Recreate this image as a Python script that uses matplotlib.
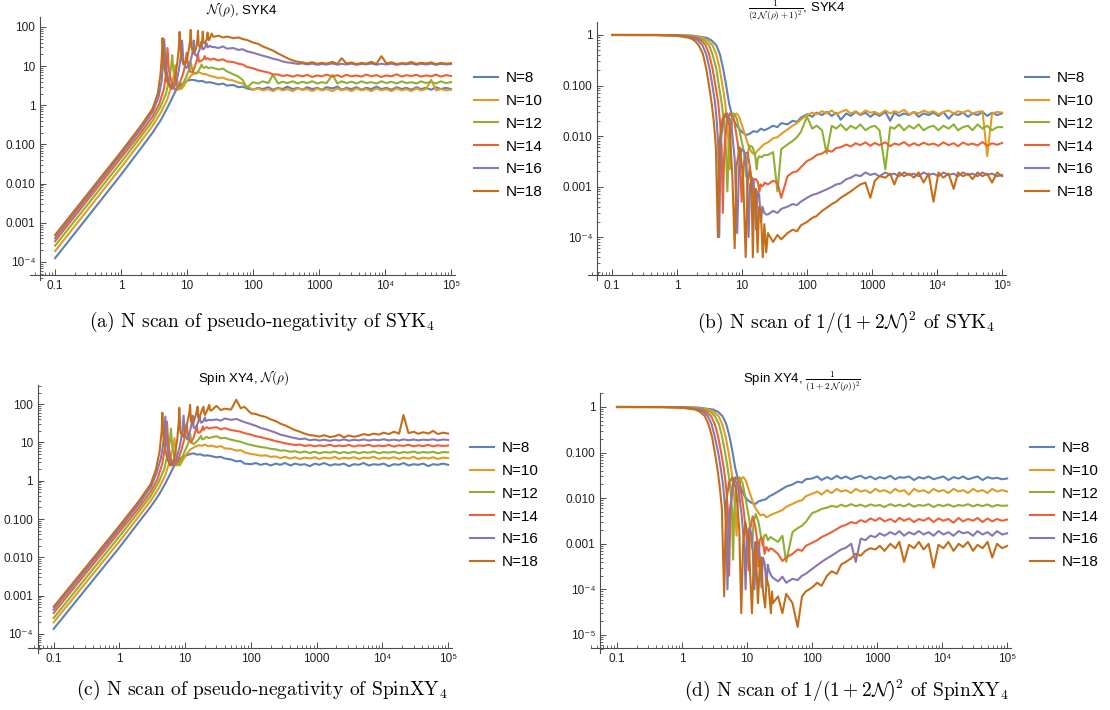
import numpy as np
import matplotlib
matplotlib.use("Agg")
import matplotlib.pyplot as plt
from matplotlib.ticker import LogLocator, NullFormatter

plt.rcParams['font.family'] = ['Liberation Sans', 'DejaVu Sans']
plt.rcParams['mathtext.fontset'] = 'cm'

N_VALUES = [8, 10, 12, 14, 16, 18]
COLORS = ['#5E81B5', '#E19C24', '#8FB032', '#EB6235', '#8778B3', '#C56E1A']

# common x grid for the noisy late-time part of every curve
x_tail = [25, 30, 35, 40, 50, 60, 70, 80,
          100, 120, 140, 170, 200, 240, 280, 330,
          400, 470, 560, 660, 790, 940,
          1100, 1300, 1600, 1900, 2200, 2600, 3100, 3700,
          4400, 5200, 6200, 7400, 8800,
          10500, 12500, 15000, 18000, 21000, 25000,
          30000, 35000, 42000, 50000, 59000, 70000, 84000, 100000]

# ---------------- (a) SYK4, N(rho) ----------------
a_head_x = {
    8: [0.1, 1, 2, 3, 4, 5, 5.8, 6.5, 7, 7.6, 8.5, 10, 11.5, 13, 15, 17, 19.5, 22],
    10: [0.1, 1, 2, 3, 4, 5, 5.8, 6.3, 6.6, 6.9, 7.4, 8.2, 9, 10, 11.5, 13, 15, 17, 19.5, 22],
    12: [0.1, 1, 2, 3, 4, 4.8, 5.4, 5.75, 5.95, 6.2, 6.7, 7.4, 8.5, 9.8, 10.8, 11.4, 11.9, 12.8,
         14, 15.5, 16.6, 17.2, 18, 19.5, 21, 23],
    14: [0.1, 1, 2, 3, 3.8, 4.5, 4.85, 5.05, 5.3, 5.8, 6.5, 7.5, 8.6, 9.4, 9.85, 10.4, 11.2, 12.2,
         13.3, 14.2, 14.6, 15.2, 16.3, 17.6, 18.5, 19.3, 20.5, 22.5],
    16: [0.1, 1, 2, 3, 3.7, 4.1, 4.35, 4.5, 4.8, 5.3, 5.9, 6.8, 7.6, 8.1, 8.4, 8.8, 9.6, 10.6, 11.6,
         12.3, 12.6, 13.1, 14, 15.2, 16.1, 16.5, 17.1, 18.2, 19.3, 19.8, 20.5, 22, 23.5],
    18: [0.1, 1, 2, 3, 3.6, 3.95, 4.15, 4.25, 4.5, 5.0, 5.6, 6.4, 7.1, 7.5, 7.7, 8.1, 8.8, 9.8, 10.7,
         11.1, 11.35, 11.7, 12.5, 13.6, 14.3, 14.65, 15.0, 15.9, 16.9, 17.3, 17.7, 18.6, 19.8, 20.5,
         20.9, 21.5, 22.8, 23.5],
}
a_head_y = {
    8: [1.25e-4, 0.017, 0.08, 0.2, 0.42, 0.85, 1.4, 2.1, 2.6, 3.1, 3.6, 4.2, 4.5, 4.4, 4.1, 4.2, 3.8, 3.9],
    10: [1.9e-4, 0.026, 0.12, 0.3, 0.65, 1.4, 3.2, 6.0, 10.5, 5.0, 3.2, 2.6, 3.2, 4.3, 5.8, 6.6, 7.0, 6.4,
         6.2, 5.7],
    12: [2.6e-4, 0.035, 0.16, 0.4, 0.95, 2.0, 5.0, 10, 19, 8, 3.8, 2.5, 3.3, 5.5, 8.5, 12.5, 8.5, 6.5,
         6.5, 8.5, 11, 9.5, 9, 9.8, 8.8, 9.3],
    14: [3.4e-4, 0.046, 0.2, 0.52, 1.1, 2.8, 8, 29, 8, 3.8, 2.5, 3.2, 6, 11, 22, 10, 7.2, 7, 10.5, 15,
         20, 13, 13.5, 15, 18, 15, 16, 14.5],
    16: [4.1e-4, 0.056, 0.25, 0.68, 1.6, 4, 12, 48, 9, 3.8, 2.6, 3.5, 9, 20, 45, 14, 9, 10, 16, 26, 45,
         20, 18, 24, 34, 42, 27, 28, 34, 38, 30, 33, 31],
    18: [4.9e-4, 0.065, 0.3, 0.82, 2.0, 6, 18, 52, 10, 4.0, 2.8, 3.8, 12, 30, 75, 18, 11, 13, 28, 45, 84,
         30, 21, 27, 45, 80, 34, 30, 40, 76, 40, 38, 48, 72, 50, 46, 58, 68],
}
a_tail = {
    8: [3.7, 3.4, 3.6, 3.2, 3.3, 2.9, 3.0, 2.7,
        2.5, 2.8, 2.6, 2.9, 2.5, 2.8, 2.6, 3.0,
        2.6, 2.8, 2.5, 2.9, 2.6, 2.8,
        2.5, 2.9, 2.7, 3.0, 2.5, 2.8, 2.6, 2.9,
        2.5, 2.8, 2.6, 3.0, 2.6,
        2.8, 2.5, 2.9, 2.6, 2.8, 2.5,
        2.9, 2.6, 2.8, 2.5, 2.9, 2.6, 2.8, 2.6],
    10: [5.4, 5.0, 5.1, 4.6, 4.3, 3.8, 3.6, 3.1,
         2.5, 2.7, 2.4, 2.6, 2.3, 2.7, 2.4, 2.6,
         2.3, 2.7, 2.5, 2.6, 2.3, 2.7,
         2.4, 2.6, 2.3, 2.7, 2.4, 2.6, 2.3, 2.7,
         2.4, 2.6, 2.3, 2.7, 2.4,
         2.6, 2.3, 2.7, 2.4, 2.6, 2.3,
         2.7, 2.4, 2.6, 4.5, 2.4, 2.6, 2.4, 2.5],
    12: [9.0, 8.2, 8.7, 7.4, 6.2, 5.4, 4.4, 2.8,
         3.9, 3.6, 4.1, 3.7, 6.0, 3.6, 4.0, 3.7,
         4.1, 3.6, 4.0, 3.7, 4.1, 3.6,
         3.9, 3.7, 6.0, 3.6, 4.1, 3.7, 4.0, 3.6,
         4.1, 3.7, 3.9, 3.6, 4.1,
         3.7, 4.0, 3.6, 4.1, 3.7, 3.9,
         3.6, 4.1, 3.7, 4.0, 3.6, 4.1, 3.7, 3.9],
    14: [15.5, 14.0, 15.0, 13.2, 12.8, 11.5, 11.0, 9.6,
         8.8, 7.9, 7.4, 6.9, 6.2, 6.1, 5.6, 5.9,
         5.4, 5.9, 5.5, 6.0, 5.3, 5.8,
         5.5, 6.1, 5.4, 5.9, 5.3, 6.0, 5.5, 5.8,
         5.4, 6.1, 5.5, 5.9, 5.3,
         5.8, 5.5, 6.2, 5.4, 5.9, 5.6,
         6.0, 5.4, 5.8, 5.5, 6.1, 5.4, 5.9, 5.6],
    16: [31, 29, 32, 28, 29, 26, 27, 24,
         22, 20, 18.5, 17, 15.5, 14.5, 13.2, 12.5,
         12.0, 11.4, 11.8, 11.0, 11.6, 10.8,
         11.4, 11.0, 11.7, 10.9, 11.5, 11.0, 11.6, 10.8,
         11.4, 11.1, 11.7, 10.9, 11.5,
         11.0, 11.6, 10.8, 11.4, 11.1, 11.7,
         10.9, 11.5, 11.0, 11.6, 10.8, 11.4, 11.1, 11.3],
    18: [56, 60, 54, 57, 52, 54, 49, 47,
         40, 37, 32, 28, 25, 21, 18.5, 16,
         14, 13, 12.5, 11.8, 12.6, 11.5,
         12.2, 11.6, 12.8, 11.4, 16, 11.7, 12.4, 11.3,
         12.1, 11.6, 12.9, 11.4, 18,
         11.7, 12.6, 11.3, 12.0, 11.6, 12.8,
         11.4, 12.2, 11.7, 12.5, 11.3, 12.1, 11.6, 11.9],
}

# ---------------- (b) SYK4, 1/(2N+1)^2 ----------------
b_head_x = {
    8: [0.1, 0.5, 1, 1.7, 2.85, 3.4, 4.0, 4.55, 5.1, 5.7, 6.3, 6.8, 7.3, 8, 9, 10, 11.5, 13, 15, 17,
        19.5, 22],
    10: [0.1, 0.5, 1, 1.5, 2.5, 3, 3.5, 4, 4.5, 5, 5.5, 5.9, 6.2, 6.4, 6.65, 7, 7.6, 8.2, 9, 10, 11,
         12.5, 14, 15.5, 17, 19, 21.5],
    12: [0.1, 0.5, 1, 1.3, 2.2, 2.65, 3.1, 3.5, 4.0, 4.4, 4.85, 5.3, 5.6, 5.95, 6.25, 6.7, 7.4, 8.3,
         9.5, 10.8, 11.4, 12, 13, 14.5, 16, 16.8, 17.4, 18.5, 20, 22],
    14: [0.1, 0.5, 1, 1.2, 1.95, 2.35, 2.75, 3.1, 3.5, 3.9, 4.3, 4.6, 4.85, 5.05, 5.3, 5.8, 6.5, 7.5,
         8.6, 9.4, 9.85, 10.4, 11.2, 12.2, 13.3, 14.2, 14.6, 15.2, 16.3, 17.6, 18.5, 19.3, 20.5, 22.5],
    16: [0.1, 0.5, 1.05, 1.75, 2.1, 2.45, 2.8, 3.15, 3.5, 3.85, 4.1, 4.3, 4.45, 4.7, 5.2, 5.9, 6.8,
         7.7, 8.4, 9.0, 9.8, 10.8, 11.8, 12.6, 13.3, 14.3, 15.4, 16.4, 17.2, 18.3, 19.5, 20.5, 22, 23.5],
    18: [0.1, 0.5, 0.95, 1.55, 1.85, 2.15, 2.5, 2.8, 3.1, 3.4, 3.7, 3.95, 4.25, 4.5, 5.0, 5.6, 6.4,
         7.1, 7.7, 8.2, 9.2, 10.4, 11.35, 12.2, 13.2, 14.0, 14.65, 15.3, 16.2, 17.3, 18.3, 19.5, 20.8,
         22, 23.5],
}
b_head_y = {
    8: [1, 1, 0.99, 0.97, 0.88, 0.78, 0.63, 0.42, 0.22, 0.1, 0.045, 0.03, 0.022, 0.017, 0.014, 0.012,
        0.0105, 0.011, 0.0125, 0.012, 0.014, 0.013],
    10: [1, 1, 0.99, 0.97, 0.88, 0.78, 0.63, 0.42, 0.22, 0.1, 0.045, 0.018, 0.007, 0.0022, 0.009,
         0.019, 0.026, 0.028, 0.024, 0.016, 0.011, 0.0065, 0.0048, 0.0043, 0.005, 0.0058, 0.0068],
    12: [1, 1, 0.99, 0.97, 0.88, 0.78, 0.63, 0.42, 0.22, 0.1, 0.045, 0.018, 0.007, 0.0008, 0.007,
         0.02, 0.028, 0.022, 0.01, 0.0045, 0.0016, 0.004, 0.0065, 0.006, 0.004, 0.0022, 0.0035, 0.004,
         0.0038, 0.0042],
    14: [1, 1, 0.99, 0.97, 0.88, 0.78, 0.63, 0.42, 0.22, 0.1, 0.045, 0.018, 0.006, 0.0003, 0.004,
         0.02, 0.028, 0.021, 0.007, 0.0021, 0.0005, 0.0023, 0.0045, 0.0047, 0.0022, 0.0011, 0.0006,
         0.0014, 0.0014, 0.0012, 0.0008, 0.0011, 0.001, 0.0012],
    16: [1, 0.995, 0.97, 0.88, 0.78, 0.63, 0.42, 0.22, 0.1, 0.045, 0.018, 0.006, 0.0001, 0.008, 0.022,
         0.028, 0.018, 0.0035, 0.00012, 0.0025, 0.0055, 0.005, 0.0022, 0.0001, 0.0011, 0.0015, 0.0009,
         0.00014, 0.0008, 0.0007, 0.0002, 0.0004, 0.0003, 0.00028],
    18: [1, 0.995, 0.97, 0.88, 0.78, 0.63, 0.42, 0.22, 0.1, 0.045, 0.018, 0.006, 0.0001, 0.008, 0.022,
         0.028, 0.016, 0.0015, 0.00006, 0.0025, 0.006, 0.0015, 0.00004, 0.0012, 0.0024, 0.0009,
         0.00004, 0.0007, 0.0009, 0.00005, 0.0004, 0.0003, 0.00004, 0.00018, 0.00005],
}
b_tail = {
    8: [0.014, 0.016, 0.015, 0.018, 0.017, 0.020, 0.019, 0.023,
        0.027, 0.024, 0.029, 0.026, 0.030, 0.025, 0.029, 0.021,
        0.028, 0.025, 0.030, 0.026, 0.029, 0.024,
        0.028, 0.025, 0.030, 0.020, 0.029, 0.025, 0.028, 0.026,
        0.030, 0.024, 0.028, 0.026, 0.029,
        0.025, 0.030, 0.022, 0.028, 0.026, 0.029,
        0.024, 0.028, 0.026, 0.030, 0.025, 0.029, 0.026, 0.028],
    10: [0.0075, 0.009, 0.0095, 0.011, 0.0135, 0.016, 0.018, 0.021,
         0.026, 0.029, 0.027, 0.031, 0.028, 0.032, 0.027, 0.030,
         0.033, 0.028, 0.031, 0.027, 0.032, 0.029,
         0.030, 0.027, 0.032, 0.028, 0.031, 0.029, 0.033, 0.027,
         0.030, 0.028, 0.032, 0.029, 0.031,
         0.027, 0.030, 0.032, 0.028, 0.031, 0.029,
         0.032, 0.028, 0.030, 0.031, 0.004, 0.028, 0.030, 0.029],
    12: [0.0042, 0.0048, 0.0008, 0.0055, 0.0068, 0.008, 0.0095, 0.012,
         0.024, 0.014, 0.016, 0.013, 0.0045, 0.016, 0.014, 0.017,
         0.013, 0.016, 0.014, 0.017, 0.013, 0.015,
         0.016, 0.013, 0.0022, 0.015, 0.014, 0.017, 0.013, 0.016,
         0.014, 0.017, 0.013, 0.015, 0.016,
         0.013, 0.016, 0.014, 0.017, 0.013, 0.015,
         0.016, 0.013, 0.017, 0.014, 0.016, 0.013, 0.015, 0.015],
    14: [0.0011, 0.0013, 0.0012, 0.0006, 0.0016, 0.0019, 0.002, 0.0024,
         0.0032, 0.0036, 0.0042, 0.0045, 0.0052, 0.0049, 0.0058, 0.006,
         0.0068, 0.0062, 0.0072, 0.0066, 0.0075, 0.0064,
         0.0073, 0.0066, 0.0075, 0.0063, 0.0071, 0.0067, 0.0076, 0.0064,
         0.0072, 0.0065, 0.0074, 0.0067, 0.0071,
         0.0064, 0.0075, 0.0066, 0.0072, 0.0063, 0.0074,
         0.0067, 0.0071, 0.0065, 0.0076, 0.0064, 0.0072, 0.0067, 0.0073],
    16: [0.00028, 0.00033, 0.0003, 0.00036, 0.0004, 0.00045, 0.00043, 0.0005,
         0.0006, 0.00068, 0.00072, 0.0008, 0.00088, 0.00098, 0.0011, 0.00115,
         0.0014, 0.0015, 0.0017, 0.0016, 0.0019, 0.0017,
         0.0018, 0.0016, 0.0019, 0.0017, 0.0018, 0.0016, 0.0019, 0.0017,
         0.0018, 0.0016, 0.0019, 0.0017, 0.0018,
         0.0016, 0.0019, 0.0017, 0.0018, 0.0016, 0.0019,
         0.0017, 0.0018, 0.0016, 0.0019, 0.0017, 0.0018, 0.0016, 0.0017],
    18: [0.00012, 0.00008, 0.00011, 0.00009, 0.00012, 0.00014, 0.00013, 0.00017,
         0.0002, 0.00024, 0.00026, 0.00033, 0.00038, 0.00045, 0.0005, 0.0006,
         0.0007, 0.0008, 0.00095, 0.0011, 0.0012, 0.0006,
         0.0013, 0.0016, 0.0015, 0.0018, 0.0011, 0.0019, 0.0016, 0.0018,
         0.0015, 0.0019, 0.0012, 0.0018, 0.0005,
         0.0019, 0.0015, 0.0018, 0.0009, 0.0019, 0.0016,
         0.0018, 0.0014, 0.0019, 0.0016, 0.0018, 0.0012, 0.0019, 0.0016],
}

# ---------------- (c) Spin XY4, N(rho) ----------------
c_head_x = {
    8: [0.1, 1, 2, 3, 4, 5, 5.8, 6.5, 7.2, 8, 9, 10.5, 12, 13.5, 15, 17, 19.5, 22],
    10: [0.1, 1, 2, 3, 4, 5, 5.8, 6.5, 6.9, 7.2, 7.6, 8.3, 9.2, 10.5, 12, 14, 16, 18, 20, 22.5],
    12: [0.1, 1, 2, 3, 4, 4.8, 5.5, 5.9, 6.1, 6.35, 6.9, 7.6, 8.7, 10, 11.3, 11.9, 12.5, 13.5, 15,
         16.6, 17.4, 18.2, 19.5, 21, 23],
    14: [0.1, 1, 2, 3, 3.8, 4.5, 5.0, 5.3, 5.55, 6.0, 6.7, 7.7, 8.8, 9.7, 10.3, 10.6, 11.1, 12.2, 13.4,
         14.4, 15.0, 15.6, 16.6, 17.8, 18.6, 19.1, 19.8, 21.5, 23],
    16: [0.1, 1, 2, 3, 3.7, 4.3, 4.75, 5.0, 5.25, 5.7, 6.3, 7.3, 8.3, 9.1, 9.5, 9.9, 10.8, 11.9, 12.6,
         13.0, 13.5, 14.5, 15.6, 16.3, 16.7, 17.3, 18.5, 19.5, 20.0, 20.6, 22, 23.5],
    18: [0.1, 1, 2, 3, 3.6, 4.1, 4.4, 4.5, 4.75, 5.3, 5.9, 6.8, 7.6, 8.0, 8.15, 8.5, 9.4, 10.6, 11.6,
         11.9, 12.3, 13.3, 14.7, 15.5, 15.8, 16.3, 17.6, 19.0, 19.5, 20.0, 21.4, 23.3, 23.9, 24.5],
}
c_head_y = {
    8: [1.35e-4, 0.018, 0.085, 0.21, 0.43, 0.85, 1.4, 2.1, 2.8, 3.5, 4.1, 4.6, 5.0, 5.2, 4.8, 4.9,
        4.5, 4.6],
    10: [2.0e-4, 0.026, 0.12, 0.3, 0.65, 1.4, 3.2, 7, 13, 5.5, 3.2, 2.5, 3.4, 5, 6.5, 7.6, 8.5, 8.2,
         8.8, 8.0],
    12: [2.6e-4, 0.035, 0.16, 0.4, 0.95, 2.0, 5.5, 12, 23, 8, 3.8, 2.5, 3.5, 6.2, 10, 17, 10, 9, 10.5,
         13, 15, 12, 12.5, 14, 13],
    14: [3.5e-4, 0.046, 0.2, 0.52, 1.1, 2.8, 9, 35, 9, 4, 2.5, 3.2, 6.5, 12, 20, 30, 14, 10, 13, 20,
         28, 18, 18, 21, 26, 21, 23, 25, 23],
    16: [4.3e-4, 0.056, 0.25, 0.68, 1.6, 4, 12, 47, 10, 4, 2.5, 3.5, 8, 20, 50, 16, 12, 20, 32, 50,
         24, 24, 32, 42, 48, 33, 34, 40, 45, 36, 38, 39],
    18: [5.1e-4, 0.066, 0.3, 0.82, 2.0, 6, 20, 60, 10, 4, 2.5, 3.6, 12, 35, 80, 18, 14, 28, 60, 96,
         35, 32, 55, 86, 45, 42, 62, 86, 60, 52, 65, 96, 70, 68],
}
c_tail = {
    8: [4.4, 4.1, 4.2, 3.8, 3.6, 3.2, 3.3, 2.8,
        2.7, 2.9, 2.6, 2.8, 2.5, 2.8, 2.6, 2.9,
        2.5, 2.8, 2.6, 2.7, 2.4, 2.8,
        2.6, 2.9, 2.5, 2.7, 2.6, 2.8, 2.4, 2.7,
        2.6, 2.9, 2.5, 2.7, 2.6,
        2.8, 2.4, 2.7, 2.6, 2.9, 2.5,
        2.7, 2.6, 2.8, 2.4, 2.7, 2.6, 2.8, 2.6],
    10: [8.3, 7.6, 8.0, 7.0, 6.8, 6.1, 6.3, 5.5,
         5.0, 4.8, 4.5, 4.6, 4.2, 4.3, 3.9, 4.2,
         3.8, 4.1, 3.7, 4.0, 3.8, 4.1,
         3.7, 4.0, 3.8, 4.2, 3.7, 4.0, 3.8, 4.1,
         3.7, 4.0, 3.9, 4.2, 3.7,
         4.0, 3.8, 4.1, 3.7, 4.0, 3.8,
         4.2, 3.7, 4.0, 3.8, 4.1, 3.7, 4.0, 3.9],
    12: [13.5, 14.5, 12.8, 13.2, 11.8, 11.0, 10.4, 9.5,
         8.6, 8.0, 7.6, 7.3, 6.8, 6.6, 6.1, 6.2,
         5.7, 5.9, 5.4, 5.8, 5.3, 5.7,
         5.2, 5.6, 5.4, 5.8, 5.2, 5.6, 5.3, 5.7,
         5.2, 5.6, 5.4, 5.8, 5.2,
         5.6, 5.4, 5.7, 5.2, 5.6, 5.4,
         5.8, 5.3, 5.6, 5.4, 5.7, 5.2, 5.6, 5.5],
    14: [24, 25, 22, 23.5, 21, 20, 19, 17.5,
         16, 14.5, 13.8, 12.6, 11.8, 10.8, 10.2, 9.5,
         9.0, 8.6, 8.8, 8.1, 8.5, 7.9,
         8.4, 8.0, 8.7, 7.9, 8.3, 8.0, 8.6, 7.8,
         8.4, 8.1, 8.7, 7.9, 8.3,
         8.0, 8.6, 7.8, 8.4, 8.1, 8.7,
         7.9, 8.4, 8.0, 8.6, 7.9, 8.4, 8.1, 8.3],
    16: [38, 40, 37, 42, 39, 41, 37, 34,
         30, 27, 24, 22, 20, 18, 16, 15,
         13.8, 13, 12.2, 12.6, 11.4, 11.9,
         11.2, 11.8, 11.0, 11.7, 11.2, 12.0, 11.1, 11.7,
         11.3, 12.0, 11.2, 11.8, 11.4,
         12.1, 11.3, 11.8, 11.2, 12.0, 11.4,
         11.9, 11.3, 11.8, 11.5, 12.1, 11.3, 11.9, 11.6],
    18: [68, 90, 70, 76, 72, 130, 78, 85,
         58, 55, 50, 46, 40, 36, 31, 28,
         24, 21, 19, 17, 15.5, 15,
         14.2, 15.5, 13.8, 14.5, 16, 13.6, 15.2, 14.0,
         15, 16.5, 15.5, 17, 16,
         18, 16.5, 19, 17, 52, 17.5,
         19, 16.8, 18.5, 17, 20, 16.5, 18, 17],
}

# ---------------- (d) Spin XY4, 1/(1+2N)^2 ----------------
d_head_x = {
    8: [0.1, 0.5, 1, 1.8, 3.0, 3.6, 4.2, 4.8, 5.4, 6.0, 6.6, 7.1, 7.6, 8.3, 9.2, 10.5, 12, 13.5, 15,
        17, 19.5, 22],
    10: [0.1, 0.5, 1, 1.55, 2.6, 3.1, 3.65, 4.15, 4.7, 5.2, 5.7, 6.15, 6.5, 6.9, 7.2, 7.6, 8.2, 8.8,
         9.6, 10.5, 11.5, 12.5, 14, 16, 18, 20, 22.5],
    12: [0.1, 0.5, 1, 1.4, 2.3, 2.75, 3.2, 3.7, 4.15, 4.6, 5.05, 5.5, 5.85, 6.1, 6.35, 6.9, 7.6, 8.5,
         9.6, 10.8, 11.9, 12.6, 13.6, 15, 16.6, 17.4, 18.3, 19.5, 21, 23],
    14: [0.1, 0.5, 1, 1.2, 2.0, 2.4, 2.8, 3.2, 3.6, 4.0, 4.4, 4.75, 5.05, 5.3, 5.55, 6.0, 6.7, 7.7,
         8.8, 9.7, 10.6, 11.1, 12.2, 13.4, 14.4, 15.0, 15.6, 16.6, 17.8, 18.6, 19.8, 21.5, 23],
    16: [0.1, 0.5, 1.05, 1.8, 2.15, 2.5, 2.85, 3.2, 3.6, 3.95, 4.3, 4.6, 4.8, 5.0, 5.3, 6.3, 7.3, 8.3,
         9.1, 9.5, 9.9, 10.8, 11.9, 13.0, 13.7, 14.5, 15.6, 16.7, 17.5, 18.5, 20.0, 20.8, 22, 23.5],
    18: [0.1, 0.5, 0.95, 1.6, 1.9, 2.25, 2.55, 2.9, 3.2, 3.5, 3.8, 4.1, 4.45, 4.75, 5.3, 5.9, 6.8,
         7.6, 8.15, 8.7, 9.4, 10.6, 11.9, 12.8, 13.5, 14.7, 15.8, 16.5, 17.6, 19.0, 20.0, 21.4, 23.3,
         24.2],
}
d_head_y = {
    8: [1, 1, 0.99, 0.97, 0.88, 0.78, 0.63, 0.42, 0.22, 0.1, 0.045, 0.03, 0.021, 0.015, 0.011,
        0.0088, 0.0078, 0.0075, 0.0085, 0.009, 0.0095, 0.011],
    10: [1, 1, 0.99, 0.97, 0.88, 0.78, 0.63, 0.42, 0.22, 0.1, 0.045, 0.018, 0.007, 0.0015, 0.008,
         0.019, 0.027, 0.029, 0.024, 0.016, 0.011, 0.0075, 0.0055, 0.0042, 0.0044, 0.0038, 0.0042],
    12: [1, 1, 0.99, 0.97, 0.88, 0.78, 0.63, 0.42, 0.22, 0.1, 0.045, 0.018, 0.006, 0.00045, 0.005,
         0.02, 0.029, 0.022, 0.009, 0.0035, 0.0008, 0.003, 0.0045, 0.003, 0.0013, 0.0009, 0.0015,
         0.0016, 0.0012, 0.0014],
    14: [1, 1, 0.99, 0.97, 0.88, 0.78, 0.63, 0.42, 0.22, 0.1, 0.045, 0.018, 0.006, 0.0002, 0.005,
         0.02, 0.029, 0.022, 0.006, 0.0017, 0.00026, 0.002, 0.004, 0.0024, 0.0011, 0.00032, 0.0012,
         0.0014, 0.001, 0.0006, 0.00085, 0.0007, 0.0008],
    16: [1, 0.995, 0.97, 0.88, 0.78, 0.63, 0.42, 0.22, 0.1, 0.045, 0.018, 0.006, 0.002, 0.0001, 0.004,
         0.028, 0.018, 0.004, 0.0008, 0.0001, 0.0012, 0.0022, 0.0016, 0.0001, 0.0007, 0.0011, 0.0006,
         0.00011, 0.0005, 0.0004, 0.00013, 0.00035, 0.00025, 0.0002],
    18: [1, 0.995, 0.97, 0.88, 0.78, 0.63, 0.42, 0.22, 0.1, 0.045, 0.018, 0.006, 0.00007, 0.008,
         0.022, 0.028, 0.016, 0.002, 0.00003, 0.001, 0.003, 0.0012, 0.00003, 0.0006, 0.0011, 0.00005,
         0.0004, 0.0005, 0.00009, 0.00004, 0.00018, 0.00012, 0.00003, 0.00009],
}
d_tail = {
    8: [0.012, 0.014, 0.016, 0.018, 0.02, 0.023, 0.022, 0.026,
        0.027, 0.03, 0.025, 0.029, 0.026, 0.031, 0.027, 0.030,
        0.026, 0.029, 0.031, 0.027, 0.030, 0.026,
        0.029, 0.027, 0.031, 0.026, 0.029, 0.028, 0.030, 0.025,
        0.029, 0.027, 0.030, 0.026, 0.028,
        0.030, 0.025, 0.029, 0.027, 0.030, 0.026,
        0.028, 0.030, 0.025, 0.029, 0.027, 0.028, 0.026, 0.027],
    10: [0.0045, 0.005, 0.0055, 0.0065, 0.0075, 0.0085, 0.009, 0.011,
         0.0125, 0.014, 0.012, 0.015, 0.013, 0.016, 0.014, 0.015,
         0.013, 0.016, 0.014, 0.015, 0.013, 0.016,
         0.014, 0.015, 0.013, 0.016, 0.014, 0.015, 0.012, 0.016,
         0.014, 0.015, 0.013, 0.016, 0.014,
         0.015, 0.013, 0.016, 0.014, 0.015, 0.013,
         0.016, 0.014, 0.015, 0.013, 0.016, 0.014, 0.015, 0.014],
    12: [0.0013, 0.0011, 0.0015, 0.0004, 0.0018, 0.0022, 0.0025, 0.003,
         0.0047, 0.0052, 0.0058, 0.0062, 0.0068, 0.0064, 0.0072, 0.0066,
         0.0074, 0.0067, 0.0072, 0.0065, 0.0073, 0.0068,
         0.0071, 0.0064, 0.0074, 0.0067, 0.0072, 0.0066, 0.0075, 0.0065,
         0.0071, 0.0068, 0.0074, 0.0064, 0.0072,
         0.0067, 0.0073, 0.0065, 0.0071, 0.0068, 0.0074,
         0.0066, 0.0072, 0.0067, 0.0073, 0.0065, 0.0071, 0.0068, 0.0069],
    14: [0.00075, 0.0006, 0.00042, 0.0005, 0.0006, 0.00075, 0.0007, 0.0009,
         0.00105, 0.0012, 0.0014, 0.0016, 0.0018, 0.0021, 0.0024, 0.0026,
         0.003, 0.0028, 0.0033, 0.003, 0.0036, 0.0032,
         0.0037, 0.0031, 0.0035, 0.003, 0.0037, 0.0032, 0.0036, 0.003,
         0.0035, 0.0032, 0.0037, 0.003, 0.0036,
         0.0032, 0.0035, 0.0029, 0.0037, 0.0031, 0.0035,
         0.0032, 0.0037, 0.003, 0.0036, 0.0031, 0.0035, 0.0032, 0.0034],
    16: [0.00018, 0.00015, 0.00019, 0.00014, 0.00017, 0.00016, 0.0002, 0.00022,
         0.00028, 0.00034, 0.0004, 0.00048, 0.00055, 0.00065, 0.00075, 0.00082,
         0.001, 0.0004, 0.0013, 0.0012, 0.0015, 0.0014,
         0.0017, 0.0015, 0.0018, 0.0016, 0.0019, 0.0015, 0.0018, 0.0016,
         0.0019, 0.0016, 0.0018, 0.0015, 0.0019,
         0.0016, 0.0018, 0.0015, 0.0019, 0.0017, 0.0018,
         0.0015, 0.0019, 0.0016, 0.0018, 0.0015, 0.0019, 0.0016, 0.0017],
    18: [0.00005, 0.00007, 0.00003, 0.00008, 0.00005, 0.000015, 0.00007, 0.00009,
         0.00011, 0.00014, 0.00012, 0.0002, 0.00025, 0.00022, 0.00035, 0.0004,
         0.00048, 0.0006, 0.00055, 0.0007, 0.0008, 0.00075,
         0.0009, 0.0007, 0.001, 0.0008, 0.0011, 0.0004, 0.00095, 0.0008,
         0.0011, 0.00075, 0.001, 0.0003, 0.00095,
         0.0008, 0.0011, 0.0007, 0.001, 0.00085, 0.0011,
         0.0007, 0.00095, 0.0008, 0.0011, 0.0005, 0.001, 0.0008, 0.0009],
}

x_ticks = [0.1, 1, 10, 100, 1000, 1e4, 1e5]
x_tick_labels = ['0.1', '1', '10', '100', '1000', '10\u2074', '10\u2075']
y_ticks_big = [1e-4, 1e-3, 1e-2, 0.1, 1, 10, 100]
y_labels_big = ['10\u207b\u2074', '0.001', '0.010', '0.100', '1', '10', '100']
y_ticks_b = [1e-4, 1e-3, 1e-2, 0.1, 1]
y_labels_b = ['10\u207b\u2074', '0.001', '0.010', '0.100', '1']
y_ticks_d = [1e-5, 1e-4, 1e-3, 1e-2, 0.1, 1]
y_labels_d = ['10\u207b\u2075', '10\u207b\u2074', '0.001', '0.010', '0.100', '1']

W, H = 1110, 710
AXIS_COLOR = '#4d4d4d'

fig = plt.figure(figsize=(W / 100, H / 100), dpi=100)


def panel(box, head_x, head_y, tail, xlog, ylog, spine_log, yticks, ylabels, legend_xy):
    # box is (left, top, right, bottom) in pixels
    l, t, r, b = box
    ax = fig.add_axes([l / W, 1 - b / H, (r - l) / W, (b - t) / H])
    for n, col in zip(N_VALUES, COLORS):
        xs = head_x[n] + x_tail
        ys = head_y[n] + tail[n]
        ax.plot(xs, ys, color=col, lw=1.5, solid_joinstyle='round', label=f"N={n}")
    ax.set_xscale('log')
    ax.set_yscale('log')
    ax.set_xlim(10 ** xlog[0], 10 ** xlog[1])
    ax.set_ylim(10 ** ylog[0], 10 ** ylog[1])
    ax.spines['top'].set_visible(False)
    ax.spines['right'].set_visible(False)
    ax.spines['left'].set_position(('data', 10 ** spine_log[0]))
    ax.spines['bottom'].set_position(('data', 10 ** spine_log[1]))
    for s in ('left', 'bottom'):
        ax.spines[s].set_color(AXIS_COLOR)
        ax.spines[s].set_linewidth(0.8)
    ax.set_xticks(x_ticks, x_tick_labels)
    ax.set_yticks(yticks, ylabels)
    ax.xaxis.set_minor_locator(LogLocator(base=10, subs=np.arange(2, 10), numticks=30))
    ax.yaxis.set_minor_locator(LogLocator(base=10, subs=np.arange(2, 10), numticks=30))
    ax.xaxis.set_minor_formatter(NullFormatter())
    ax.yaxis.set_minor_formatter(NullFormatter())
    ax.tick_params(which='major', direction='in', length=4, width=0.7, color=AXIS_COLOR,
                   labelsize=8.5, labelcolor='#222222', pad=3.5)
    ax.tick_params(which='minor', direction='in', length=2, width=0.6, color=AXIS_COLOR)
    ax.patch.set_alpha(0)
    fs = 11
    px = fs * 100 / 72
    ax.legend(loc='upper left', bbox_to_anchor=(legend_xy[0] / W, 1 - legend_xy[1] / H),
              bbox_transform=fig.transFigure, frameon=False, fontsize=fs,
              handlelength=24 / px, handletextpad=8 / px, labelspacing=0.58,
              borderpad=0, borderaxespad=0)
    return ax


panel((30, 17, 455, 280), a_head_x, a_head_y, a_tail, (-1.38, 5.06), (-4.46, 2.255),
      (-1.227, -4.33), y_ticks_big, y_labels_big, (474, 71))
panel((588, 22, 1006, 280), b_head_x, b_head_y, b_tail, (-1.37, 5.06), (-4.85, 0.257),
      (-1.23, -4.75), y_ticks_b, y_labels_b, (1025, 71))
panel((28, 385, 452, 653), c_head_x, c_head_y, c_tail, (-1.39, 5.06), (-4.5, 2.5),
      (-1.24, -4.37), y_ticks_big, y_labels_big, (470, 441))
panel((591, 393, 1011, 653), d_head_x, d_head_y, d_tail, (-1.40, 5.06), (-5.395, 0.307),
      (-1.26, -5.285), y_ticks_d, y_labels_d, (1030, 441))

# plot titles
fig.text(242 / W, 1 - 10 / H, r"$\mathcal{N}(\rho)$, SYK4", ha='center', va='center', fontsize=9.5)
fig.text(797 / W, 1 - 11 / H, r"$\frac{1}{(2\,\mathcal{N}\,(\rho)+1)^2}$, SYK4", ha='center',
         va='center', fontsize=9.5)
fig.text(244 / W, 1 - 378 / H, r"Spin XY4, $\mathcal{N}(\rho)$", ha='center', va='center',
         fontsize=9.5)
fig.text(802 / W, 1 - 382 / H, r"Spin XY4, $\frac{1}{(1+2\,\mathcal{N}\,(\rho))^2}$", ha='center',
         va='center', fontsize=9.5)

# captions
captions = [
    (262, 322, r"(a) N scan of pseudo-negativity of SYK$_4$"),
    (846, 322, r"(b) N scan of $1/(1+2\mathcal{N})^2$ of SYK$_4$"),
    (262, 690, r"(c) N scan of pseudo-negativity of SpinXY$_4$"),
    (846, 690, r"(d) N scan of $1/(1+2\mathcal{N})^2$ of SpinXY$_4$"),
]
for cx, cy, txt in captions:
    fig.text(cx / W, 1 - cy / H, txt, ha='center', va='center', fontsize=14, family='cmr10')

fig.savefig('out.png', dpi=100)
